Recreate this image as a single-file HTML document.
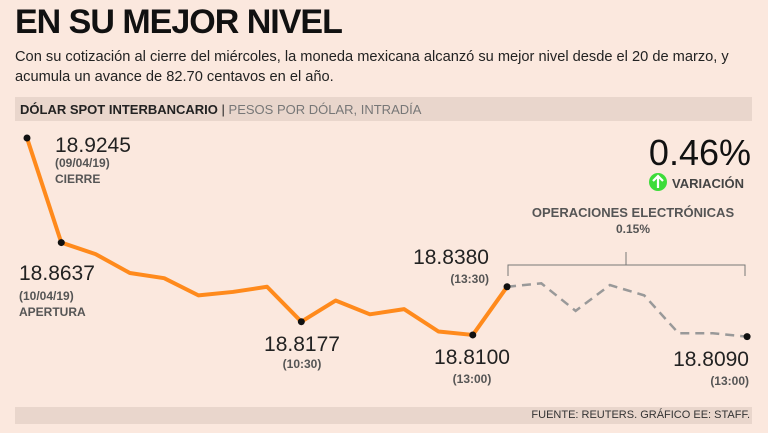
<!DOCTYPE html>
<html><head><meta charset="utf-8"><style>
body{margin:0;width:768px;height:433px;background:#fbe8de;font-family:"Liberation Sans",sans-serif;overflow:hidden;position:relative}
.t{position:absolute;white-space:nowrap}
</style></head><body>
<div class="t" style="left:15px;top:3px;font-size:34px;font-weight:bold;color:#111;letter-spacing:-1px;transform:scaleX(1.0);transform-origin:left">EN SU MEJOR NIVEL</div>
<div class="t" style="left:15px;top:47px;font-size:15px;line-height:20px;color:#222;transform:scaleX(0.975);transform-origin:left">Con su cotización al cierre del miércoles, la moneda mexicana alcanzó su mejor nivel desde el 20 de marzo, y<br>acumula un avance de 82.70 centavos en el año.</div>
<div style="position:absolute;left:15px;top:97px;width:737px;height:24px;background:#e9d6cc"></div>
<div class="t" style="left:20px;top:102px;font-size:13px;color:#222"><b>DÓLAR SPOT INTERBANCARIO</b> <span style="color:#222">|</span> <span style="color:#777">PESOS POR DÓLAR, INTRADÍA</span></div>
<div style="position:absolute;left:15px;top:407px;width:737px;height:17px;background:#e9d6cc"></div>
<div class="t" style="right:18px;top:409px;font-size:11px;color:#333">FUENTE: REUTERS. GRÁFICO EE: STAFF.</div>
<svg width="768" height="433" style="position:absolute;left:0;top:0" id="chart">
<g id="marks"></g>
<path d="M508,276 V265 H745 V276 M626,265 V252" fill="none" stroke="#777" stroke-width="1"/>
<g font-family="Liberation Sans, sans-serif" fill="#222">
<text x="55" y="152" font-size="21">18.9245</text>
<text x="55" y="167" font-size="12" font-weight="bold" fill="#555">(09/04/19)</text>
<text x="55" y="183" font-size="12" font-weight="bold" fill="#555">CIERRE</text>
<text x="19" y="280" font-size="21">18.8637</text>
<text x="19" y="300" font-size="12" font-weight="bold" fill="#555">(10/04/19)</text>
<text x="19" y="316" font-size="12" font-weight="bold" fill="#555">APERTURA</text>
<text x="302" y="351" font-size="21" text-anchor="middle">18.8177</text>
<text x="302" y="368" font-size="12" font-weight="bold" fill="#555" text-anchor="middle">(10:30)</text>
<text x="472" y="364" font-size="21" text-anchor="middle">18.8100</text>
<text x="472" y="383" font-size="12" font-weight="bold" fill="#555" text-anchor="middle">(13:00)</text>
<text x="489" y="264" font-size="21" text-anchor="end">18.8380</text>
<text x="489" y="283" font-size="12" font-weight="bold" fill="#555" text-anchor="end">(13:30)</text>
<text x="749" y="366" font-size="21" text-anchor="end">18.8090</text>
<text x="749" y="385" font-size="12" font-weight="bold" fill="#555" text-anchor="end">(13:00)</text>
<text x="633" y="217" font-size="13" font-weight="bold" fill="#555" text-anchor="middle">OPERACIONES ELECTRÓNICAS</text>
<text x="633" y="233" font-size="12" font-weight="bold" fill="#555" text-anchor="middle">0.15%</text>
<text x="751" y="165" font-size="36" text-anchor="end" fill="#111">0.46%</text>
<circle cx="658" cy="182" r="9" fill="#3ddc3a"/>
<path d="M658,188 V176 M653,181 L658,176 L663,181" stroke="#fff" stroke-width="2.2" fill="none"/>
<text x="672" y="188" font-size="13" font-weight="bold" fill="#444">VARIACIÓN</text>
</g>
</svg>
<script>
const solidValues=[18.9245,18.8637,18.857,18.846,18.843,18.833,18.835,18.838,18.8177,18.830,18.822,18.825,18.812,18.8100,18.8380];
const dashedValues=[18.8380,18.840,18.824,18.839,18.833,18.811,18.811,18.8090];
const markedIdx=[0,1,8,13,14,21];
const x=i=>27+i*34.29;
const y=v=>138+(18.9245-v)*1720;
const g=document.getElementById('marks');
const NS='http://www.w3.org/2000/svg';
const solid=document.createElementNS(NS,'polyline');
solid.setAttribute('points',solidValues.map((v,i)=>x(i)+','+y(v)).join(' '));
solid.setAttribute('fill','none');solid.setAttribute('stroke','#ff8a1c');solid.setAttribute('stroke-width','4');solid.setAttribute('stroke-linejoin','round');


g.appendChild(solid);
const off=solidValues.length-1;
const dash=document.createElementNS(NS,'polyline');
dash.setAttribute('points',dashedValues.map((v,i)=>x(i+off)+','+y(v)).join(' '));
dash.setAttribute('fill','none');dash.setAttribute('stroke','#999');dash.setAttribute('stroke-width','2.5');dash.setAttribute('stroke-dasharray','9,6');


g.appendChild(dash);
const all=solidValues.concat(dashedValues.slice(1));
markedIdx.forEach(i=>{
const c=document.createElementNS(NS,'circle');
c.setAttribute('cx',x(i));c.setAttribute('cy',y(all[i]));c.setAttribute('r','3.5');c.setAttribute('fill','#111');


g.appendChild(c);
});
</script>
</body></html>
